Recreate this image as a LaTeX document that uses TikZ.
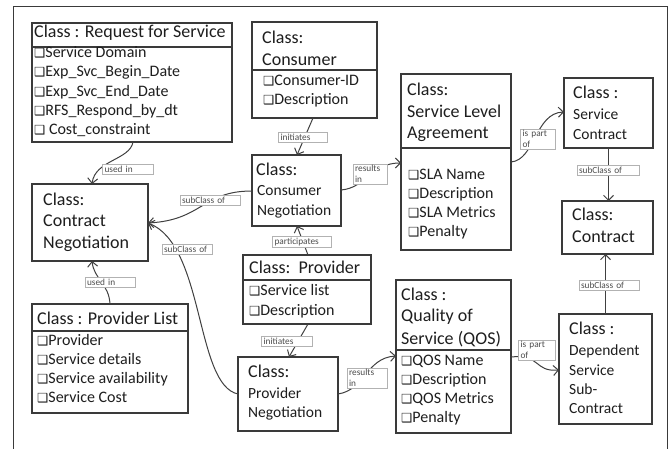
\documentclass[tikz,border=0pt]{standalone}
\usepackage{fontspec}
\setmainfont{Carlito}
\newfontfamily\dvs{DejaVu Sans}
\usetikzlibrary{arrows.meta}
\newcommand\cbx{{\dvs\fontsize{12.5}{12.5}\selectfont ❑}}
\definecolor{boxc}{HTML}{3A3A3A}
\definecolor{txtc}{HTML}{1E1E1E}
\definecolor{linec}{HTML}{404040}
\begin{document}
\begin{tikzpicture}[x=1pt,y=-1pt,
  box/.style={draw=boxc, line width=1.1pt, rectangle, anchor=north west, inner sep=0pt, outer sep=0pt},
  sepl/.style={draw=boxc, line width=1.1pt},
  txt/.style={anchor=west, inner sep=0pt, text height=0.66em, text depth=0pt, text=txtc},
  big/.style={txt, font=\fontsize{18}{21}\selectfont},
  sml/.style={txt, font=\fontsize{15.5}{19}\selectfont},
  itm/.style={txt, font=\fontsize{16}{19}\selectfont},
  lbl/.style={draw=black!30, fill=white, font=\fontsize{9.3}{10.5}\selectfont, text=black!70, inner xsep=2pt, inner ysep=1.5pt, align=left, text width=#1},
  conn/.style={draw=linec, line width=1pt},
  arr/.style={conn, -{Straight Barb[length=5pt,width=10pt]}}
]
\useasboundingbox (0,0) rectangle (669,449);
\fill[white] (0,0) rectangle (669,449);
% outer frame
\draw[draw=boxc, line width=1pt] (13,455) -- (13,7) -- (667,7) -- (667,455);

% Request for Service
\node[box, minimum width=200pt, minimum height=119pt] (rfs) at (32,23) {};
\draw[sepl] ([yshift=-24pt]rfs.north west) -- ([yshift=-24pt]rfs.north east);
\node[big] (rfs-t) at (34,34) {Class : Request for Service};
\foreach \t [count=\i] in {Service Domain, Exp\_Svc\_Begin\_Date, Exp\_Svc\_End\_Date, RFS\_Respond\_by\_dt, {\ }Cost\_constraint}
  \node[itm] (rfs-\i) at (34,{54+19.4*(\i-1)}) {\cbx\t};

% Consumer
\node[box, minimum width=125pt, minimum height=96pt] (cons) at (252,22) {};
\draw[sepl] ([yshift=-48pt]cons.north west) -- ([yshift=-48pt]cons.north east);
\node[big] (cons-t1) at (262,40) {Class:};
\node[big] (cons-t2) at (262,62) {Consumer};
\node[itm] (cons-1) at (263,82) {\cbx Consumer-ID};
\node[itm] (cons-2) at (263,101) {\cbx Description};

% Service Level Agreement
\node[box, minimum width=110pt, minimum height=176pt] (sla) at (401,74) {};
\draw[sepl] ([yshift=-74pt]sla.north west) -- ([yshift=-74pt]sla.north east);
\node[big] (sla-t1) at (407,92) {Class:};
\node[big] (sla-t2) at (407,114) {Service Level};
\node[big] (sla-t3) at (407,135) {Agreement};
\foreach \t [count=\i] in {SLA Name, Description, SLA Metrics, Penalty}
  \node[itm] (sla-\i) at (408,{176+19*(\i-1)}) {\cbx\t};

% Service Contract
\node[box, minimum width=89pt, minimum height=70pt] (sc) at (564,78) {};
\node[big] (sc-t1) at (573,95) {Class :};
\node[sml] (sc-t2) at (573,116) {Service};
\node[sml] (sc-t3) at (573,136) {Contract};

% Contract
\node[box, minimum width=91pt, minimum height=53pt] (ctr) at (562,201) {};
\node[big] (ctr-t1) at (572,217) {Class:};
\node[big] (ctr-t2) at (572,239) {Contract};

% Contract Negotiation
\node[box, minimum width=116pt, minimum height=77pt] (cn) at (32,184) {};
\node[big] (cn-t1) at (43,202) {Class:};
\node[big] (cn-t2) at (43,223) {Contract};
\node[big] (cn-t3) at (43,245) {Negotiation};

% Consumer Negotiation
\node[box, minimum width=89pt, minimum height=71pt] (cneg) at (252,155) {};
\node[big] (cneg-t1) at (256,172) {Class:};
\node[sml] (cneg-t2) at (257,192) {Consumer};
\node[sml] (cneg-t3) at (257,212) {Negotiation};

% Provider
\node[box, minimum width=128pt, minimum height=69pt] (prov) at (243,255) {};
\draw[sepl] ([yshift=-25pt]prov.north west) -- ([yshift=-25pt]prov.north east);
\node[big] (prov-t) at (249,270) {Class:\ \ Provider};
\node[itm] (prov-1) at (249,292) {\cbx Service list};
\node[itm] (prov-2) at (249,312) {\cbx Description};

% Provider Negotiation
\node[box, minimum width=100pt, minimum height=74pt] (pneg) at (238,357) {};
\node[big] (pneg-t1) at (248,374) {Class:};
\node[sml] (pneg-t2) at (248,395) {Provider};
\node[sml] (pneg-t3) at (248,414) {Negotiation};

% Quality of Service
\node[box, minimum width=115pt, minimum height=153pt] (qos) at (396,280) {};
\draw[sepl] ([yshift=-70pt]qos.north west) -- ([yshift=-70pt]qos.north east);
\node[big] (qos-t1) at (401,297) {Class :};
\node[big] (qos-t2) at (401,318) {Quality of};
\node[big] (qos-t3) at (401,341) {Service (QOS)};
\foreach \t [count=\i] in {QOS Name, Description, QOS Metrics, Penalty}
  \node[itm] (qos-\i) at (401,{362+19*(\i-1)}) {\cbx\t};

% Dependent Service Sub-Contract
\node[box, minimum width=93pt, minimum height=110pt] (dep) at (559,314) {};
\node[big] (dep-t1) at (569,331) {Class :};
\node[sml] (dep-t2) at (569,352) {Dependent};
\node[sml] (dep-t3) at (569,372) {Service};
\node[sml] (dep-t4) at (569,391) {Sub-};
\node[sml] (dep-t5) at (569,410) {Contract};

% Provider List
\node[box, minimum width=156pt, minimum height=109pt] (plist) at (32,304) {};
\draw[sepl] ([yshift=-27pt]plist.north west) -- ([yshift=-27pt]plist.north east);
\node[big] (plist-t) at (37,321) {Class : Provider List};
\foreach \t [count=\i] in {Provider, Service details, Service availability, Service Cost}
  \node[itm] (plist-\i) at (37,{342+19*(\i-1)}) {\cbx\t};

% connectors
\draw[arr] ([xshift=101pt]rfs.south west) .. controls +(-3,18) and +(3,-24) .. ([xshift=60pt]cn.north west);
\draw[arr] ([xshift=61pt]cons.south west) -- ([xshift=45pt]cneg.north west);
\draw[arr] ([yshift=-35pt]cneg.north east) .. controls +(25,-2) and +(-30,0) .. ([yshift=-89pt]sla.north west);
\draw[arr] ([yshift=-36pt]cneg.north west) .. controls +(-50,0) and +(55,-3) .. ([yshift=-39pt]cn.north east);
\draw[arr] ([yshift=-37pt]pneg.north west) .. controls +(-43,-9) and +(57,22) .. ([yshift=-39pt]cn.north east);
\draw[arr] ([xshift=65pt]prov.north west) -- ([xshift=45pt]cneg.south west);
\draw[arr] ([xshift=65pt]prov.south west) -- ([xshift=51pt]pneg.north west);
\draw[arr] ([yshift=-37pt]pneg.north east) .. controls +(27,-4) and +(-30,2) .. ([yshift=-76pt]qos.north west);
\draw[arr] ([yshift=-88pt]sla.north east) .. controls +(24,-2) and +(-29,1) .. ([yshift=-34pt]sc.north west);
\draw[arr] (sc.south) -- (sc.south |- ctr.north);
\draw[arr] (dep.north) -- (dep.north |- ctr.south);
\draw[arr] ([yshift=-77pt]qos.north east) .. controls +(30,-3) and +(-25,2) .. ([yshift=-56pt]dep.north west);
\draw[arr] ([xshift=78pt]plist.north west) .. controls +(-1,-20) and +(2,18) .. ([xshift=60pt]cn.south west);

% labels
\node[lbl=47pt] (la) at (128,169) {used in};
\node[lbl=45pt] (lb) at (303,137) {initiates};
\node[lbl=30pt] (lc) at (370,174) {results\\in};
\node[lbl=56pt] (ld) at (210,200) {subClass of};
\node[lbl=46pt] (le) at (187,249) {subClass of};
\node[lbl=55pt] (lf) at (302,242) {participates};
\node[lbl=47pt] (lg) at (287,341) {initiates};
\node[lbl=36pt] (lh) at (367,378) {results\\in};
\node[lbl=31pt] (li) at (538,139) {is part\\of};
\node[lbl=58pt] (lj) at (608,170) {subClass of};
\node[lbl=56pt] (lk) at (609,285) {subClass of};
\node[lbl=33pt] (ll) at (537,350) {is part\\of};
\node[lbl=46pt] (lm) at (110,282) {used in};
\end{tikzpicture}
\end{document}
